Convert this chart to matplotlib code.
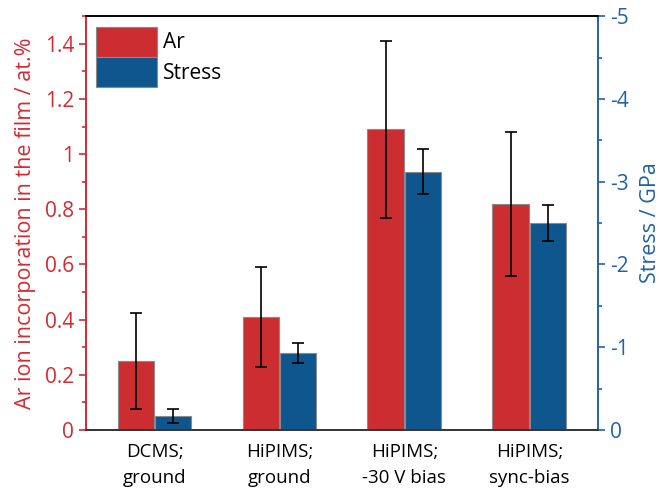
import matplotlib.pyplot as plt
from matplotlib.ticker import MultipleLocator, FuncFormatter
import numpy as np

plt.rcParams['font.family'] = ['Open Sans', 'DejaVu Sans']

# data
groups = ['DCMS;\nground', 'HiPIMS;\nground', 'HiPIMS;\n-30 V bias', 'HiPIMS;\nsync-bias']
ar = [0.25, 0.41, 1.09, 0.82]          # at.%
ar_err = [0.175, 0.18, 0.32, 0.26]
stress = [-0.17, -0.93, -3.12, -2.50]  # GPa
stress_err = [0.08, 0.12, 0.27, 0.22]

red = '#CC2D30'
blue = '#0F568F'
red_ax = '#D42B33'
blue_ax = '#1F63A6'

x = np.arange(len(groups))
w = 0.29

fig, ax = plt.subplots(figsize=(6.6, 4.92), dpi=100)
fig.subplots_adjust(left=0.130, right=0.906, bottom=0.126, top=0.967)
ax2 = ax.twinx()

b1 = ax.bar(x - 0.15, ar, w, color=red, edgecolor='#8a8a8a', linewidth=0.8,
            yerr=ar_err, error_kw=dict(ecolor='black', elinewidth=1.2, capsize=4, capthick=1.2))
b2 = ax2.bar(x + 0.15, stress, w, color=blue, edgecolor='#8a8a8a', linewidth=0.8,
             yerr=stress_err, error_kw=dict(ecolor='black', elinewidth=1.2, capsize=4, capthick=1.2))

ax.set_xlim(-0.55, 3.55)
ax.set_ylim(0, 1.5)
ax2.set_ylim(0, -5)

ax.set_xticks(x)
ax.set_xticklabels(groups, fontsize=13.5, linespacing=1.6)
ax.tick_params(axis='x', length=0, pad=9)

ax.yaxis.set_major_locator(MultipleLocator(0.2))
ax.yaxis.set_minor_locator(MultipleLocator(0.1))
ax.yaxis.set_major_formatter(FuncFormatter(lambda v, p: '0' if abs(v) < 1e-9 else ('1' if abs(v - 1) < 1e-9 else f'{v:.1f}')))
ax.tick_params(axis='y', which='major', direction='out', length=5, width=1.2, colors=red_ax, labelsize=15)
ax.tick_params(axis='y', which='minor', direction='out', length=3, width=1.2, colors=red_ax)
ax.set_ylabel('Ar ion incorporation in the film / at.%', color=red_ax, fontsize=15.5, labelpad=6)

ax2.yaxis.set_major_locator(MultipleLocator(1))
ax2.yaxis.set_minor_locator(MultipleLocator(0.5))
ax2.yaxis.set_major_formatter(FuncFormatter(lambda v, p: f'{v:.0f}' if abs(v) > 1e-9 else '0'))
ax2.tick_params(axis='y', which='major', direction='out', length=5, width=1.2, colors=blue_ax, labelsize=15)
ax2.tick_params(axis='y', which='minor', direction='out', length=3, width=1.2, colors=blue_ax)
ax2.set_ylabel('Stress / GPa', color=blue_ax, fontsize=15.5, labelpad=8)

for a in (ax, ax2):
    a.spines['left'].set_color(red_ax)
    a.spines['right'].set_color(blue_ax)
    a.spines['top'].set_color('black')
    a.spines['bottom'].set_color('#333333')
    for s in a.spines.values():
        s.set_linewidth(1.2)

leg = ax2.legend([b1, b2], ['Ar', 'Stress'], loc='upper left', bbox_to_anchor=(0.0, 1.0),
                 frameon=False, fontsize=15, handlelength=2.9, handleheight=1.85,
                 labelspacing=0.0, handletextpad=0.3, borderaxespad=0.2, borderpad=0.3)

fig.savefig('out.png', dpi=100)
